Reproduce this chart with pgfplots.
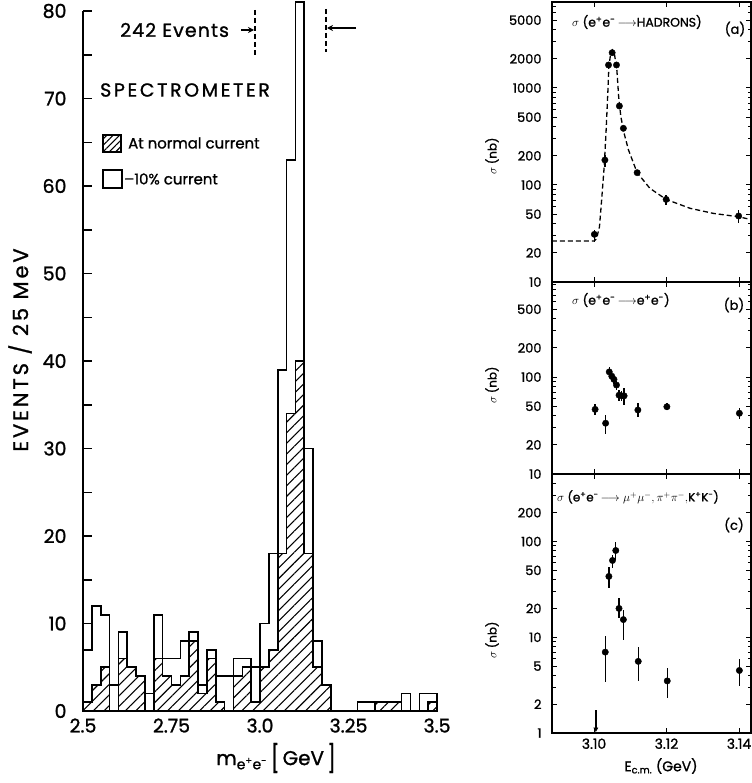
\documentclass[border=0pt]{standalone}
\usepackage{pgfplots}
\pgfplotsset{compat=1.18}
\usepackage{fontspec}
\setmainfont{Poppins}[FakeBold=1.2]
\usetikzlibrary{patterns.meta,arrows.meta}
\newcommand{\fs}[1]{\fontsize{#1}{#1}\selectfont}

\pgfplotsset{
 rp/.style={
  scale only axis, width=199bp, xmin=3.08841, xmax=3.14331,
  axis line style={line width=1.4bp},
  xtick={3.10,3.12,3.14}, xticklabels={},
  tick align=inside, major tick length=5bp, minor tick length=3.5bp,
  every tick/.append style={black, line width=1bp},
  /pgf/number format/assume math mode=true,
  yticklabel style={font=\fs{13}, xshift=-7bp},
 },
 dat/.style={only marks, mark=*, mark size=3.2bp, black,
   error bars/y dir=both, error bars/y explicit, error bars/error mark=none,
   error bars/error bar style={line width=1.4bp}},
}

\begin{document}
\begin{tikzpicture}[x=1bp,y=1bp]
\path[use as bounding box] (0,0) rectangle (752,-783);

% ---------------- left histogram ----------------
\begin{axis}[
 at={(83bp,-711bp)}, anchor=south west,
 scale only axis, width=354bp, height=700bp,
 xmin=2.5, xmax=3.5, ymin=0, ymax=80,
 axis x line=bottom, axis y line=left, axis line style={-, line width=1.6bp},
 clip=false,
 xtick={2.5,2.75,3.0,3.25,3.5}, xticklabels={2.5,2.75,3.0,3.25,3.5},
 xtick style={draw=none},
 ytick={0,10,...,80}, minor ytick={5,15,...,75},
 tick align=inside, major tick length=9bp, minor tick length=9bp,
 every tick/.append style={black, line width=1.5bp},
 /pgf/number format/assume math mode=true,
 xticklabel style={font=\fs{19}, yshift=-4bp},
 yticklabel style={font=\fs{19}, xshift=-13bp},
]
\addplot[const plot, draw=black, line width=1.6bp, fill=white] coordinates {
(2.500,7) (2.525,12) (2.550,11) (2.575,3) (2.600,9) (2.625,5) (2.650,4) (2.675,2)
(2.700,11) (2.725,6) (2.750,6) (2.775,8) (2.800,9) (2.825,3) (2.850,7) (2.875,4)
(2.900,4) (2.925,6) (2.950,6) (2.975,5) (3.000,10) (3.025,18) (3.050,39) (3.075,63)
(3.100,81) (3.125,30) (3.150,8) (3.175,3) (3.200,0) (3.225,0) (3.250,0) (3.275,1)
(3.300,1) (3.325,1) (3.350,1) (3.375,1) (3.400,2) (3.425,0) (3.450,2) (3.475,2) (3.500,2)
} \closedcycle;
\addplot[const plot, draw=black, line width=1.6bp,
  pattern={Lines[angle=45,distance=7.5bp,line width=1.1bp]}] coordinates {
(2.500,1) (2.525,3) (2.550,5) (2.575,0) (2.600,6) (2.625,5) (2.650,4) (2.675,0)
(2.700,6) (2.725,4) (2.750,3) (2.775,4) (2.800,8) (2.825,2) (2.850,6) (2.875,1)
(2.900,0) (2.925,4) (2.950,5) (2.975,1) (3.000,5) (3.025,7) (3.050,18) (3.075,34)
(3.100,40) (3.125,18) (3.150,5) (3.175,3) (3.200,0) (3.225,0) (3.250,0) (3.275,0)
(3.300,0) (3.325,1) (3.350,1) (3.375,1) (3.400,0) (3.425,0) (3.450,0) (3.475,1) (3.500,1)
} \closedcycle;
\end{axis}

% annotations left
\node[anchor=west, font=\fs{19}\addfontfeatures{LetterSpace=6}, inner sep=0] at (120,-30) {242 Events};
\draw[line width=1.2bp, -{Stealth[length=6bp,width=6bp]}] (241,-30) -- (254,-30);
\draw[line width=1.5bp, dash pattern=on 5bp off 3bp] (255,-10) -- (255,-58);
\draw[line width=1.5bp, dash pattern=on 5bp off 3bp] (326,-9) -- (326,-52);
\draw[line width=1.2bp, -{Stealth[length=6bp,width=6bp]}] (356,-28) -- (327,-28);
\node[anchor=west, font=\fs{19}\addfontfeatures{LetterSpace=14}, inner sep=0] at (100,-90) {SPECTROMETER};
\draw[line width=1.5bp, pattern={Lines[angle=45,distance=4.5bp,line width=1.1bp]}] (103,-135) rectangle (121,-152);
\node[anchor=west, font=\fs{15}, inner sep=0] at (128,-143) {At normal current};
\draw[line width=1.5bp, fill=white] (103,-170) rectangle (122,-188);
\node[anchor=west, font=\fs{15}, inner sep=0] at (124,-179) {–10\% current};
\node[rotate=90, font=\fs{21}\addfontfeatures{LetterSpace=14}] at (20,-350) {EVENTS / 25 MeV};
\node[font=\fs{20}] at (276,-758) {m\textsubscript{e\textsuperscript{+}e\textsuperscript{-}}\,\raisebox{-0.15em}{\scalebox{1}[1.35]{[}}\,GeV\,\raisebox{-0.15em}{\scalebox{1}[1.35]{]}}};

% ---------------- (a) ----------------
\begin{axis}[rp, ymode=log, at={(552bp,-282bp)}, anchor=south west, height=280bp, ymin=10, ymax=7700,
 ytick={10,20,50,100,200,500,1000,2000,5000}, yticklabels={10,20,50,100,200,500,1000,2000,5000},
 minor ytick={30,40,60,70,80,90,300,400,600,700,800,900,3000,4000,6000,7000}]
\addplot[black, line width=1.3bp, dash pattern=on 5bp off 3bp] coordinates {
(3.0884,26.5) (3.1001,26.5) (3.1007,28) (3.1015,37) (3.1021,70) (3.1028,154) (3.1033,341)
(3.1038,881) (3.1041,1660) (3.1046,2280) (3.1051,2460) (3.1056,2280) (3.1063,1535)
(3.1068,813) (3.1074,506) (3.1083,341) (3.1095,230) (3.1119,134) (3.1154,92.5)
(3.1199,71) (3.1265,57.5) (3.1329,51) (3.1399,47) (3.1434,44)};
\addplot[dat] coordinates {
(3.1001,31) += (0,3) -= (0,5)
(3.1030,181) += (0,23) -= (0,26)
(3.1040,1726) +- (0,0)
(3.1050,2311) +- (0,0)
(3.1062,1726) +- (0,0)
(3.1070,652) +- (0,0)
(3.1081,384) +- (0,0)
(3.1119,134) +- (0,0)
(3.1199,71) += (0,7) -= (0,9)
(3.1399,47.9) += (0,7.3) -= (0,7.1)
};
\end{axis}
\node[anchor=west, font=\fs{12.5}, inner sep=0] at (572,-22) {$\sigma$ (e\textsuperscript{+}e\textsuperscript{-}\,$\longrightarrow$HADRONS)};
\node[font=\fs{13}] at (735,-29) {(a)};

% ---------------- (b) ----------------
\begin{axis}[rp, ymode=log, at={(552bp,-474bp)}, anchor=south west, height=192bp, ymin=10, ymax=955,
 ytick={10,20,50,100,200,500}, yticklabels={10,20,50,100,200,500},
 minor ytick={30,40,60,70,80,90,300,400,600,700,800,900}]
\addplot[dat] coordinates {
(3.1003,46.4) += (0,6.3) -= (0,5.8)
(3.1032,33.4) += (0,7.2) -= (0,7.6)
(3.1042,113) += (0,15) -= (0,12)
(3.1049,102) +- (0,10)
(3.1055,94.6) +- (0,9)
(3.1062,82.7) +- (0,9)
(3.1069,65) +- (0,8)
(3.1076,64) +- (0,8)
(3.1083,64) += (0,12.6) -= (0,12.6)
(3.1121,45.7) += (0,7.9) -= (0,6.7)
(3.1201,49.4) +- (0,4)
(3.1401,42.3) += (0,5.3) -= (0,5.1)
};
\end{axis}
\node[anchor=west, font=\fs{12.5}, inner sep=0] at (572,-300) {$\sigma$ (e\textsuperscript{+}e\textsuperscript{-}\,$\longrightarrow$e\textsuperscript{+}e\textsuperscript{-})};
\node[font=\fs{13}] at (734,-305) {(b)};

% ---------------- (c) ----------------
\begin{axis}[rp, ymode=log, at={(552bp,-733bp)}, anchor=south west, height=259bp, ymin=1, ymax=507,
 ytick={1,2,5,10,20,50,100,200}, yticklabels={1,2,5,10,20,50,100,200},
 minor ytick={3,4,6,7,8,9,30,40,60,70,80,90,300,400},
 xticklabels={3.10,3.12,3.14}, xticklabel style={font=\fs{14}, yshift=-2bp}]
\addplot[dat] coordinates {
(3.1031,7.0) += (0,3.2) -= (0,3.6)
(3.1041,43.2) += (0,10.8) -= (0,10.5)
(3.1051,63.4) += (0,9.2) -= (0,10.6)
(3.1060,80.6) += (0,19.4) -= (0,17.2)
(3.1069,20.0) += (0,5.7) -= (0,4.1)
(3.1081,15.3) += (0,4.1) -= (0,6.0)
(3.1122,5.6) += (0,2.3) -= (0,2.1)
(3.1202,3.5) += (0,1.3) -= (0,1.2)
(3.1401,4.5) += (0,1.4) -= (0,1.4)
};
\addplot[only marks, black, mark=triangle*, mark size=2.4bp, mark options={rotate=180},
  error bars/y dir=plus, error bars/y explicit, error bars/error mark=none,
  error bars/error bar style={line width=1.4bp}]
  coordinates {(3.1005,1.1) += (0,0.65)};
\end{axis}
\node[anchor=west, font=\fs{12}, inner sep=0] at (557,-497) {$\sigma$ (e\textsuperscript{+}e\textsuperscript{-}\,$\longrightarrow\mu^+\mu^-,\pi^+\pi^-,$K\textsuperscript{+}K\textsuperscript{-})};
\node[font=\fs{13}] at (734,-525) {(c)};
\node[font=\fs{14}] at (661,-766) {E\textsubscript{c.m.} (GeV)};

% sigma (nb) labels
\node[rotate=90, font=\fs{12}] at (492,-156) {$\sigma$ (nb)};
\node[rotate=90, font=\fs{12}] at (492,-385) {$\sigma$ (nb)};
\node[rotate=90, font=\fs{12}] at (492,-640) {$\sigma$ (nb)};
\end{tikzpicture}
\end{document}
